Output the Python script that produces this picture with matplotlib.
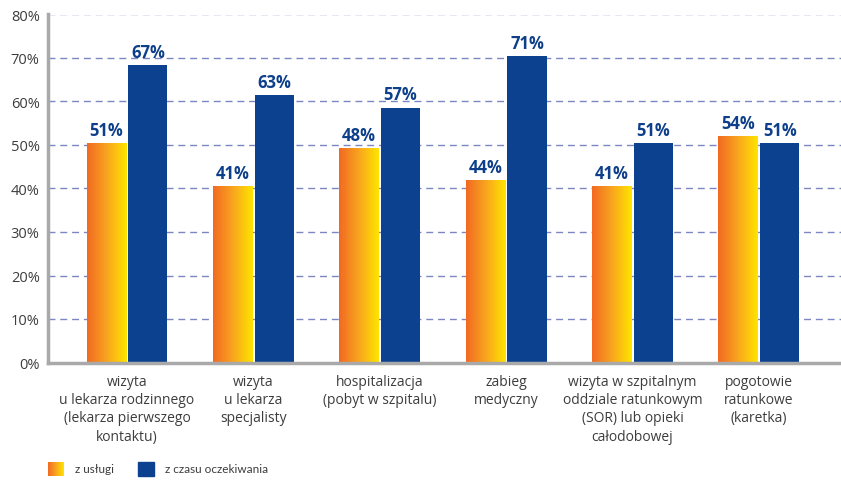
import numpy as np
import matplotlib
matplotlib.use("Agg")
import matplotlib.pyplot as plt
from matplotlib.colors import LinearSegmentedColormap
from matplotlib.patches import Rectangle

categories = [
    "wizyta\nu lekarza rodzinnego\n(lekarza pierwszego\nkontaktu)",
    "wizyta\nu lekarza\nspecjalisty",
    "hospitalizacja\n(pobyt w szpitalu)",
    "zabieg\nmedyczny",
    "wizyta w szpitalnym\noddziale ratunkowym\n(SOR) lub opieki\ncałodobowej",
    "pogotowie\nratunkowe\n(karetka)",
]
series_names = ["z usługi", "z czasu oczekiwania"]
usluga_values = [50.5, 40.6, 49.2, 42.0, 40.6, 52.0]
czas_values = [68.4, 61.5, 58.6, 70.5, 50.4, 50.5]
usluga_labels = ["51%", "41%", "48%", "44%", "41%", "54%"]
czas_labels = ["67%", "63%", "57%", "71%", "51%", "51%"]
yticks = [0, 10, 20, 30, 40, 50, 60, 70, 80]

BLUE = "#0b418f"
LABEL_BLUE = "#0d3f8a"
TEXT = "#3d3d3d"
GRID = "#7b86c2"
AXIS = "#a9a9a9"
grad = LinearSegmentedColormap.from_list("og", ["#f26a22", "#f8a51f", "#ffe400"])
gimg = np.linspace(0, 1, 64).reshape(1, -1)

W, H = 841, 481
fig = plt.figure(figsize=(W / 100, H / 100), dpi=100)
ax = fig.add_axes([48 / W, (H - 363.5) / H, (W - 48) / W, (363.5 - 15.5) / H])

x = np.arange(len(categories))
bw = 0.31
off = 0.165
bars_o = ax.bar(x - off, usluga_values, width=bw, color="none", zorder=3)
bars_b = ax.bar(x + off, czas_values, width=bw, color=BLUE, zorder=3)

for b in bars_o:
    x0, w, h = b.get_x(), b.get_width(), b.get_height()
    ax.imshow(gimg, cmap=grad, extent=[x0, x0 + w, 0, h], aspect="auto",
              interpolation="bicubic", zorder=3)

for bars, labels in ((bars_o, usluga_labels), (bars_b, czas_labels)):
    for b, lab in zip(bars, labels):
        ax.annotate(lab, (b.get_x() + b.get_width() / 2, b.get_height()),
                    xytext=(0, 3), textcoords="offset points", ha="center", va="bottom",
                    fontsize=12, fontweight="bold", color=LABEL_BLUE, family="Open Sans")

ax.set_xlim(-0.625, 5.65)
ax.set_ylim(0, 80)
ax.set_yticks(yticks)
ax.set_yticklabels([f"{v}%" for v in yticks], fontsize=10.5, color=TEXT, family="Open Sans")
ax.set_xticks(x)
ax.set_xticklabels(categories, fontsize=10, color=TEXT, family="Open Sans", linespacing=1.3)
ax.tick_params(axis="x", length=0, pad=8)
ax.tick_params(axis="y", length=0, pad=6)

for v in yticks[1:]:
    ax.axhline(v, color=GRID, lw=1, ls=(0, (5, 3.5)), zorder=1)

for s in ["top", "right"]:
    ax.spines[s].set_visible(False)
for s in ["left", "bottom"]:
    ax.spines[s].set_color(AXIS)
    ax.spines[s].set_linewidth(2.5)
    ax.spines[s].set_zorder(4)

# legend
lax = fig.add_axes([0, 0, 1, 1], facecolor="none")
lax.axis("off")
lax.imshow(gimg, cmap=grad, extent=[48, 64, 477, 463], aspect="auto", interpolation="bicubic")
lax.add_patch(Rectangle((138, 463), 16, 14, color=BLUE))
lax.text(75, 470, series_names[0], fontsize=8.5, color=TEXT, family="Lato", va="center")
lax.text(165, 470, series_names[1], fontsize=8.5, color=TEXT, family="Lato", va="center")
lax.set_xlim(0, W)
lax.set_ylim(H, 0)

fig.savefig("out.png", dpi=100)
